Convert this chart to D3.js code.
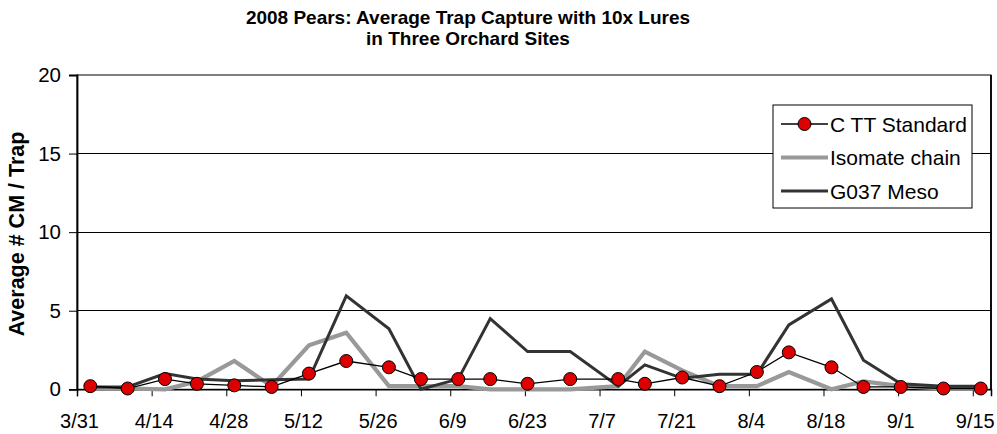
<!DOCTYPE html>
<html><head><meta charset="utf-8">
<script src="https://cdn.jsdelivr.net/npm/d3@7"></script>
<style>html,body{margin:0;padding:0;background:#fff;}svg{display:block;font-family:"Liberation Sans",Arial,sans-serif;}</style>
</head><body>
<script>
const dates = ["4/2","4/9","4/16","4/22","4/29","5/6","5/13","5/20","5/28","6/3","6/10","6/16","6/23","7/1","7/10","7/15","7/22","7/29","8/5","8/11","8/19","8/25","9/1","9/9","9/16"];
const ctt = [0.2,0.05,0.65,0.35,0.25,0.15,1.0,1.8,1.4,0.65,0.65,0.65,0.35,0.65,0.65,0.35,0.75,0.2,1.1,2.35,1.4,0.15,0.15,0.05,0.05];
const isomate = [0.05,0.05,0.0,0.5,1.8,0.2,2.8,3.6,0.2,0.2,0.2,0.0,0.0,0.0,0.2,2.4,1.2,0.2,0.2,1.1,0.0,0.5,0.2,0.05,0.05];
const g037 = [0.15,0.15,1.0,0.65,0.55,0.6,0.65,5.95,3.85,0.0,0.65,4.5,2.4,2.4,0.2,1.55,0.7,0.95,0.95,4.1,5.75,1.85,0.35,0.2,0.2];
const xTickLabels = ["3/31","4/14","4/28","5/12","5/26","6/9","6/23","7/7","7/21","8/4","8/18","9/1","9/15"];
const yTicks = [0,5,10,15,20];
const seriesNames = ["C TT Standard","Isomate chain","G037 Meso"];
const titleLines = ["2008 Pears: Average Trap Capture with 10x Lures","in Three Orchard Sites"];
const yTitle = "Average # CM / Trap";

const parse = s => { const [m,d] = s.split("/").map(Number); return new Date(Date.UTC(2008, m-1, d)); };
const mid = s => new Date(parse(s).getTime() + 12*3600*1000);

const W = 997, H = 434;
const L = 77, R = 991, T = 75, B = 389.3;
const svg = d3.select("body").append("svg").attr("width", W).attr("height", H);

const x = d3.scaleUtc().domain([parse("3/31"), new Date(parse("9/18").getTime() + 10*3600*1000)]).range([L, R]);
const y = d3.scaleLinear().domain([0, 20]).range([B, T]);

// title
svg.append("g").selectAll("text").data(titleLines).join("text")
  .attr("x", 468).attr("y", (d,i) => 24 + i*21)
  .attr("text-anchor", "middle").attr("font-weight", "bold").attr("font-size", 19)
  .text(d => d);

// gridlines
svg.append("g").selectAll("line").data(yTicks.filter(v => v > 0 && v < 20)).join("line")
  .attr("x1", L).attr("x2", R).attr("y1", d => y(d)).attr("y2", d => y(d))
  .attr("stroke", "#000").attr("stroke-width", 1).attr("shape-rendering","crispEdges");

// plot border
svg.append("rect").attr("x", L).attr("y", y(20)).attr("width", R - L).attr("height", B - y(20))
  .attr("fill", "none").attr("stroke", "#000").attr("stroke-width", 1);
svg.append("line").attr("x1", R).attr("x2", R).attr("y1", y(20)).attr("y2", B)
  .attr("stroke", "#000").attr("stroke-width", 1.8);

// y axis
const yAxis = d3.axisLeft(y).tickValues(yTicks).tickSize(8).tickPadding(8).tickFormat(d3.format("d"));
const gy = svg.append("g").attr("transform", `translate(${L},0)`).call(yAxis);
gy.select(".domain").attr("stroke", "#000").attr("stroke-width", 1.8);
gy.selectAll(".tick line").attr("stroke", "#000");
gy.selectAll(".tick text").attr("font-size", 20.5).attr("font-family", "Liberation Sans, Arial, sans-serif").attr("fill", "#000");

// x axis
const xAxis = d3.axisBottom(x).tickValues(xTickLabels.map(parse)).tickSize(7).tickPadding(0)
  .tickFormat((d,i) => xTickLabels[i]);
const gx = svg.append("g").attr("transform", `translate(0,${B})`).call(xAxis);
gx.select(".domain").attr("stroke", "#000").attr("stroke-width", 1.5);
gx.selectAll(".tick line").attr("stroke", "#000");
gx.selectAll(".tick text").attr("font-size", 20).attr("font-family", "Liberation Sans, Arial, sans-serif")
  .attr("fill", "#000").attr("dy", null).attr("y", 39).attr("dx", 2);

// y title
svg.append("text").attr("transform", "translate(23.5,234) rotate(-90)")
  .attr("text-anchor", "middle").attr("font-weight", "bold").attr("font-size", 21.5).text(yTitle);

const line = vals => d3.line().x((d,i) => x(mid(dates[i]))).y(d => y(d))(vals);

svg.append("path").attr("d", line(isomate)).attr("fill", "none").attr("stroke", "#999999").attr("stroke-width", 4.2).attr("stroke-linejoin","miter");
svg.append("path").attr("d", line(g037)).attr("fill", "none").attr("stroke", "#333333").attr("stroke-width", 3).attr("stroke-linejoin","miter");
svg.append("path").attr("d", line(ctt)).attr("fill", "none").attr("stroke", "#000").attr("stroke-width", 1.3);
svg.append("g").selectAll("circle").data(ctt).join("circle")
  .attr("cx", (d,i) => x(mid(dates[i]))).attr("cy", d => y(d)).attr("r", 6.5)
  .attr("fill", "#dd0000").attr("stroke", "#000").attr("stroke-width", 1);

// legend
const lg = svg.append("g");
lg.append("rect").attr("x", 773).attr("y", 105).attr("width", 199).attr("height", 103)
  .attr("fill", "#fff").attr("stroke", "#000").attr("stroke-width", 1);
const styles = [
  {stroke:"#000", w:1.3, marker:true},
  {stroke:"#999999", w:4.2, marker:false},
  {stroke:"#333333", w:3, marker:false}
];
seriesNames.forEach((name, i) => {
  const cy = 124 + i*33.5;
  lg.append("line").attr("x1", 781).attr("x2", 828).attr("y1", cy).attr("y2", cy)
    .attr("stroke", styles[i].stroke).attr("stroke-width", styles[i].w);
  if (styles[i].marker) lg.append("circle").attr("cx", 804.5).attr("cy", cy).attr("r", 6.5)
    .attr("fill", "#dd0000").attr("stroke", "#000").attr("stroke-width", 1);
  lg.append("text").attr("x", 830).attr("y", cy).attr("dy", "0.36em").attr("font-size", 21).text(name);
});
</script>
</body></html>
